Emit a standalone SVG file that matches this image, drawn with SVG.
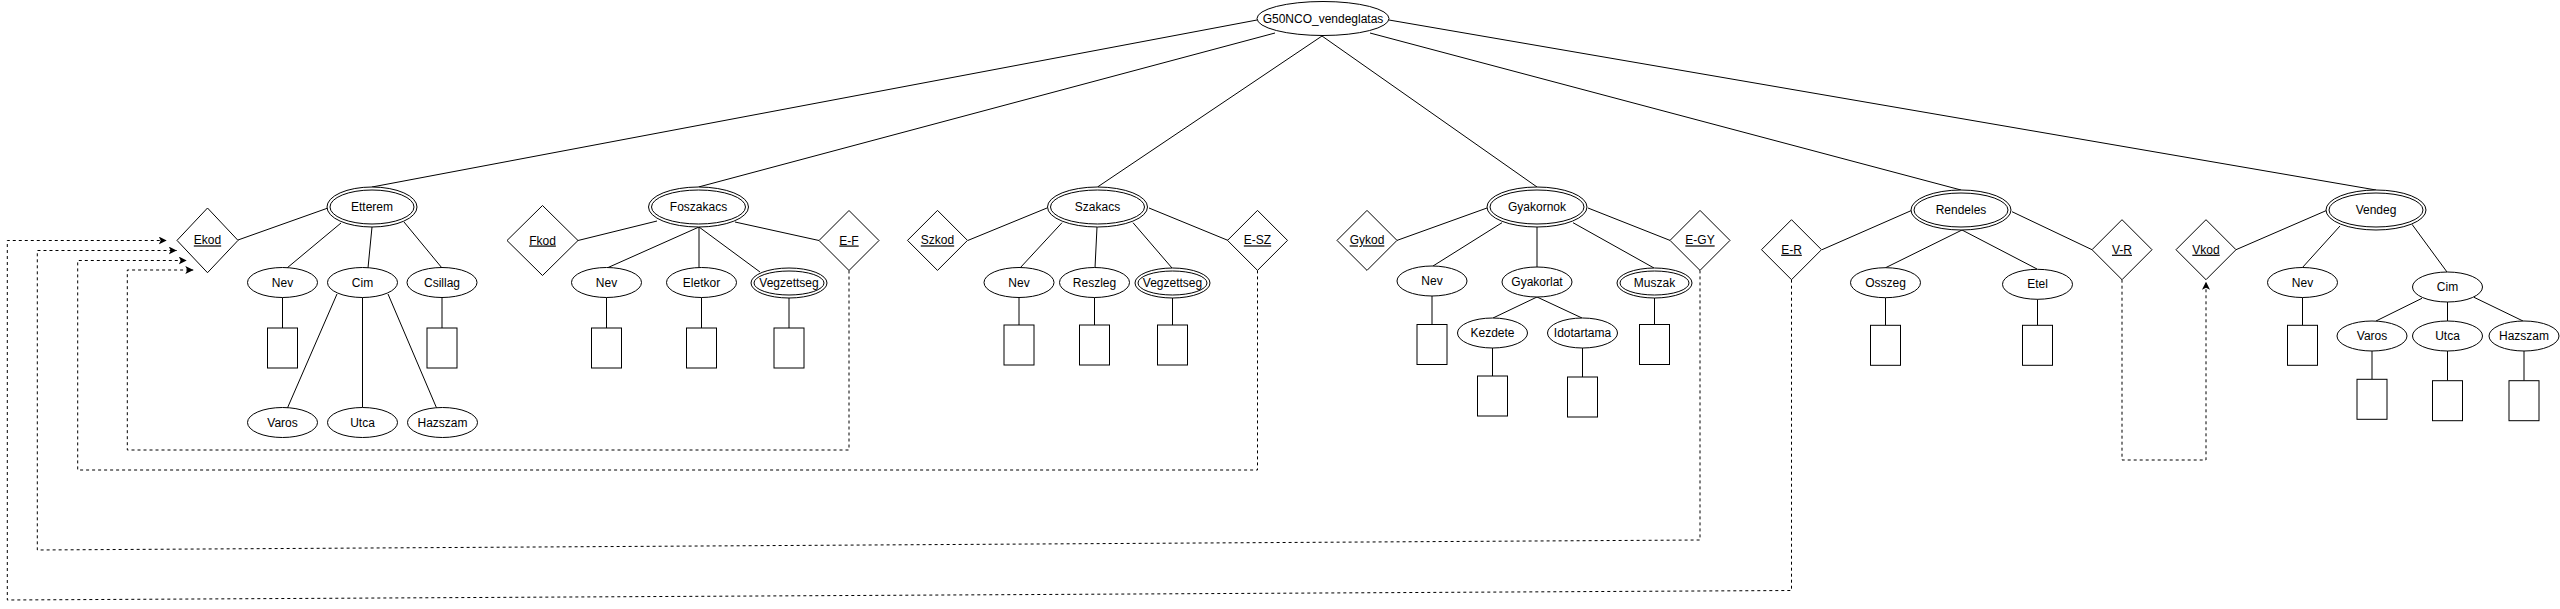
<svg xmlns="http://www.w3.org/2000/svg" width="2560" height="609" viewBox="0 0 2560 609">
<defs>
<style>
.s{fill:#fff;stroke:#000;stroke-width:1}
.ln{fill:none;stroke:#000;stroke-width:1}
.d{fill:none;stroke:#000;stroke-width:1;stroke-dasharray:3 3}
text{font-family:"Liberation Sans",Arial,sans-serif;font-size:12px;fill:#000;text-anchor:middle}
.u{text-decoration:underline}
</style>
<marker id="ah" viewBox="0 0 10 10" refX="10" refY="5" markerWidth="8" markerHeight="8" markerUnits="userSpaceOnUse" orient="auto">
<path d="M0,0 L10,5 L0,10 L2.5,5 Z" fill="#000"/>
</marker>
</defs>
<rect width="2560" height="609" fill="#fff"/>
<g id="connectors">
<!-- root to entities -->
<line class="ln" x1="1257" y1="20" x2="372" y2="187"/>
<line class="ln" x1="1275" y1="33" x2="698.5" y2="187"/>
<line class="ln" x1="1322" y1="36" x2="1097.5" y2="187"/>
<line class="ln" x1="1322" y1="36" x2="1537" y2="187"/>
<line class="ln" x1="1370" y1="33" x2="1961" y2="190"/>
<line class="ln" x1="1389" y1="20" x2="2376" y2="190"/>
<!-- Etterem -->
<line class="ln" x1="238" y1="240" x2="328" y2="208"/>
<line class="ln" x1="341" y1="223" x2="287" y2="268"/>
<line class="ln" x1="372" y1="227" x2="368" y2="268"/>
<line class="ln" x1="404" y1="222" x2="442" y2="268"/>
<line class="ln" x1="337" y1="294" x2="287" y2="409"/>
<line class="ln" x1="362.5" y1="297.5" x2="362.5" y2="407.5"/>
<line class="ln" x1="388" y1="294" x2="437" y2="409"/>
<line class="ln" x1="282.5" y1="297.5" x2="282.5" y2="328"/>
<line class="ln" x1="442" y1="297.5" x2="442" y2="328"/>
<!-- Foszakacs -->
<line class="ln" x1="578" y1="240.5" x2="657" y2="221"/>
<line class="ln" x1="819" y1="240.5" x2="735" y2="222"/>
<line class="ln" x1="699" y1="227" x2="607" y2="268"/>
<line class="ln" x1="699" y1="227" x2="699" y2="268"/>
<line class="ln" x1="699" y1="227" x2="760" y2="272"/>
<line class="ln" x1="606.5" y1="297.5" x2="606.5" y2="328"/>
<line class="ln" x1="701.5" y1="297.5" x2="701.5" y2="328"/>
<line class="ln" x1="789" y1="298" x2="789" y2="328"/>
<!-- Szakacs -->
<line class="ln" x1="968" y1="240.4" x2="1047" y2="208"/>
<line class="ln" x1="1149" y1="208" x2="1228" y2="240.4"/>
<line class="ln" x1="1062" y1="222.7" x2="1020" y2="268"/>
<line class="ln" x1="1097" y1="227" x2="1095" y2="268"/>
<line class="ln" x1="1133" y1="222.7" x2="1172" y2="268"/>
<line class="ln" x1="1019" y1="297.5" x2="1019" y2="325"/>
<line class="ln" x1="1094.5" y1="297.5" x2="1094.5" y2="325"/>
<line class="ln" x1="1172.5" y1="298" x2="1172.5" y2="325"/>
<!-- Gyakornok -->
<line class="ln" x1="1397" y1="240.4" x2="1487" y2="208"/>
<line class="ln" x1="1588" y1="208" x2="1670" y2="240.4"/>
<line class="ln" x1="1502" y1="222.7" x2="1433" y2="266"/>
<line class="ln" x1="1537" y1="227" x2="1537" y2="267"/>
<line class="ln" x1="1573" y1="222.7" x2="1654" y2="268"/>
<line class="ln" x1="1537" y1="297" x2="1493" y2="318"/>
<line class="ln" x1="1537" y1="297" x2="1582" y2="318"/>
<line class="ln" x1="1432" y1="296" x2="1432" y2="324.5"/>
<line class="ln" x1="1492.5" y1="348" x2="1492.5" y2="376"/>
<line class="ln" x1="1582.5" y1="348" x2="1582.5" y2="377"/>
<line class="ln" x1="1654.5" y1="298" x2="1654.5" y2="324.5"/>
<!-- Rendeles -->
<line class="ln" x1="1822" y1="249.7" x2="1911" y2="210.7"/>
<line class="ln" x1="2012" y1="211.7" x2="2092" y2="249.7"/>
<line class="ln" x1="1962" y1="230" x2="1885" y2="268"/>
<line class="ln" x1="1962" y1="230" x2="2037" y2="269"/>
<line class="ln" x1="1885.5" y1="297.7" x2="1885.5" y2="325.3"/>
<line class="ln" x1="2037.5" y1="299.3" x2="2037.5" y2="325.3"/>
<!-- Vendeg -->
<line class="ln" x1="2236" y1="249.7" x2="2326" y2="210.7"/>
<line class="ln" x1="2340" y1="226" x2="2302" y2="268"/>
<line class="ln" x1="2412" y1="224.3" x2="2447" y2="272"/>
<line class="ln" x1="2422" y1="298.3" x2="2376" y2="321"/>
<line class="ln" x1="2447.5" y1="302" x2="2447.5" y2="321"/>
<line class="ln" x1="2474" y1="297.3" x2="2523" y2="321"/>
<line class="ln" x1="2302.5" y1="297.5" x2="2302.5" y2="325.3"/>
<line class="ln" x1="2372" y1="351" x2="2372" y2="379.3"/>
<line class="ln" x1="2447.5" y1="351" x2="2447.5" y2="380.7"/>
<line class="ln" x1="2524" y1="351" x2="2524" y2="380.7"/>
<!-- dashed foreign key arrows -->
<polyline class="d" points="849,270.5 849,450 127.3,450 127.3,270 193.3,270" marker-end="url(#ah)"/>
<polyline class="d" points="1257.5,270.4 1257.5,470 77.7,470 77.7,260.5 186.7,260.5" marker-end="url(#ah)"/>
<polyline class="d" points="1700,270.4 1700,540 37.3,550 37.3,250.5 176.7,250.5" marker-end="url(#ah)"/>
<polyline class="d" points="1791.5,279.7 1791.5,590.5 7.3,600 7.3,240.5 166.7,240.5" marker-end="url(#ah)"/>
<polyline class="d" points="2122,279.7 2122,460 2206,460 2206,281.7" marker-end="url(#ah)"/>
</g>
<g id="root"><ellipse class="s" cx="1323" cy="18.5" rx="66" ry="17"/><text x="1323" y="22.5">G50NCO_vendeglatas</text></g>
<!-- Etterem -->
<g id="etterem"><ellipse class="s" cx="372" cy="207" rx="45" ry="20"/><ellipse class="s" cx="372" cy="207" rx="42" ry="17"/><text x="372" y="211">Etterem</text></g>
<g id="ekod"><polygon class="s" points="207.5,208 238,240.4 207.5,272.7 177,240.4"/><text class="u" x="207.5" y="244.4">Ekod</text></g>
<g id="etterem-nev"><ellipse class="s" cx="282.5" cy="282.5" rx="35" ry="15"/><text x="282.5" y="286.5">Nev</text></g>
<g id="etterem-cim"><ellipse class="s" cx="362.5" cy="282.5" rx="35" ry="15"/><text x="362.5" y="286.5">Cim</text></g>
<g id="etterem-csillag"><ellipse class="s" cx="442" cy="282.5" rx="35" ry="15"/><text x="442" y="286.5">Csillag</text></g>
<g id="etterem-varos"><ellipse class="s" cx="282.5" cy="422.5" rx="35" ry="15"/><text x="282.5" y="426.5">Varos</text></g>
<g id="etterem-utca"><ellipse class="s" cx="362.5" cy="422.5" rx="35" ry="15"/><text x="362.5" y="426.5">Utca</text></g>
<g id="etterem-hazszam"><ellipse class="s" cx="442.5" cy="422.5" rx="35" ry="15"/><text x="442.5" y="426.5">Hazszam</text></g>
<g id="etterem-boxes"><rect class="s" x="267.5" y="328" width="30" height="40"/><rect class="s" x="427" y="328" width="30" height="40"/></g>
<!-- Foszakacs -->
<g id="foszakacs"><ellipse class="s" cx="698.5" cy="207" rx="50" ry="20"/><ellipse class="s" cx="698.5" cy="207" rx="47" ry="17"/><text x="698.5" y="211">Foszakacs</text></g>
<g id="fkod"><polygon class="s" points="542.5,205.5 578,240.5 542.5,275.5 507,240.5"/><text class="u" x="542.5" y="244.5">Fkod</text></g>
<g id="ef"><polygon class="s" points="849,210.5 879,240.5 849,270.5 819,240.5"/><text class="u" x="849" y="244.5">E-F</text></g>
<g id="foszakacs-nev"><ellipse class="s" cx="606.5" cy="282.5" rx="35" ry="15"/><text x="606.5" y="286.5">Nev</text></g>
<g id="foszakacs-eletkor"><ellipse class="s" cx="701.5" cy="282.5" rx="35" ry="15"/><text x="701.5" y="286.5">Eletkor</text></g>
<g id="foszakacs-vegzettseg"><ellipse class="s" cx="789" cy="283" rx="38" ry="15"/><ellipse class="s" cx="789" cy="283" rx="35" ry="12"/><text x="789" y="287">Vegzettseg</text></g>
<g id="foszakacs-boxes"><rect class="s" x="591.5" y="328" width="30" height="40"/><rect class="s" x="686.5" y="328" width="30" height="40"/><rect class="s" x="774" y="328" width="30" height="40"/></g>
<!-- Szakacs -->
<g id="szakacs"><ellipse class="s" cx="1097.5" cy="207" rx="50" ry="20"/><ellipse class="s" cx="1097.5" cy="207" rx="47" ry="17"/><text x="1097.5" y="211">Szakacs</text></g>
<g id="szkod"><polygon class="s" points="937.5,210.4 967.5,240.4 937.5,270.4 907.5,240.4"/><text class="u" x="937.5" y="244.4">Szkod</text></g>
<g id="esz"><polygon class="s" points="1257.5,210.4 1287.5,240.4 1257.5,270.4 1227.5,240.4"/><text class="u" x="1257.5" y="244.4">E-SZ</text></g>
<g id="szakacs-nev"><ellipse class="s" cx="1019" cy="282.5" rx="35" ry="15"/><text x="1019" y="286.5">Nev</text></g>
<g id="szakacs-reszleg"><ellipse class="s" cx="1094.5" cy="282.5" rx="35" ry="15"/><text x="1094.5" y="286.5">Reszleg</text></g>
<g id="szakacs-vegzettseg"><ellipse class="s" cx="1172.5" cy="283" rx="37.5" ry="15"/><ellipse class="s" cx="1172.5" cy="283" rx="34.5" ry="12"/><text x="1172.5" y="287">Vegzettseg</text></g>
<g id="szakacs-boxes"><rect class="s" x="1004" y="325" width="30" height="40"/><rect class="s" x="1079.5" y="325" width="30" height="40"/><rect class="s" x="1157.5" y="325" width="30" height="40"/></g>
<!-- Gyakornok -->
<g id="gyakornok"><ellipse class="s" cx="1537" cy="207" rx="50" ry="20"/><ellipse class="s" cx="1537" cy="207" rx="47" ry="17"/><text x="1537" y="211">Gyakornok</text></g>
<g id="gykod"><polygon class="s" points="1367,210.4 1397,240.4 1367,270.4 1337,240.4"/><text class="u" x="1367" y="244.4">Gykod</text></g>
<g id="egy"><polygon class="s" points="1700,210.4 1730,240.4 1700,270.4 1670,240.4"/><text class="u" x="1700" y="244.4">E-GY</text></g>
<g id="gyakornok-nev"><ellipse class="s" cx="1432" cy="281" rx="35" ry="15"/><text x="1432" y="285">Nev</text></g>
<g id="gyakornok-gyakorlat"><ellipse class="s" cx="1537" cy="282" rx="35" ry="15"/><text x="1537" y="286">Gyakorlat</text></g>
<g id="gyakornok-muszak"><ellipse class="s" cx="1654.5" cy="283" rx="37.5" ry="15"/><ellipse class="s" cx="1654.5" cy="283" rx="34.5" ry="12"/><text x="1654.5" y="287">Muszak</text></g>
<g id="gyakornok-kezdete"><ellipse class="s" cx="1492.5" cy="333" rx="35" ry="15"/><text x="1492.5" y="337">Kezdete</text></g>
<g id="gyakornok-idotartama"><ellipse class="s" cx="1582.5" cy="333" rx="35" ry="15"/><text x="1582.5" y="337">Idotartama</text></g>
<g id="gyakornok-boxes"><rect class="s" x="1417" y="324.5" width="30" height="40"/><rect class="s" x="1477.5" y="376" width="30" height="40"/><rect class="s" x="1567.5" y="377" width="30" height="40"/><rect class="s" x="1639.5" y="324.5" width="30" height="40"/></g>
<!-- Rendeles -->
<g id="rendeles"><ellipse class="s" cx="1961" cy="210" rx="50" ry="20"/><ellipse class="s" cx="1961" cy="210" rx="47" ry="17"/><text x="1961" y="214">Rendeles</text></g>
<g id="er"><polygon class="s" points="1791.5,219.7 1821.5,249.7 1791.5,279.7 1761.5,249.7"/><text class="u" x="1791.5" y="253.7">E-R</text></g>
<g id="vr"><polygon class="s" points="2122,219.7 2152,249.7 2122,279.7 2092,249.7"/><text class="u" x="2122" y="253.7">V-R</text></g>
<g id="rendeles-osszeg"><ellipse class="s" cx="1885.5" cy="282.7" rx="35" ry="15"/><text x="1885.5" y="286.7">Osszeg</text></g>
<g id="rendeles-etel"><ellipse class="s" cx="2037.5" cy="284.3" rx="35" ry="15"/><text x="2037.5" y="288.3">Etel</text></g>
<g id="rendeles-boxes"><rect class="s" x="1870.5" y="325.3" width="30" height="40"/><rect class="s" x="2022.5" y="325.3" width="30" height="40"/></g>
<!-- Vendeg -->
<g id="vendeg"><ellipse class="s" cx="2376" cy="210" rx="50" ry="20"/><ellipse class="s" cx="2376" cy="210" rx="47" ry="17"/><text x="2376" y="214">Vendeg</text></g>
<g id="vkod"><polygon class="s" points="2206,219.7 2236,249.7 2206,279.7 2176,249.7"/><text class="u" x="2206" y="253.7">Vkod</text></g>
<g id="vendeg-nev"><ellipse class="s" cx="2302.5" cy="282.5" rx="35" ry="15"/><text x="2302.5" y="286.5">Nev</text></g>
<g id="vendeg-cim"><ellipse class="s" cx="2447.5" cy="287" rx="35" ry="15"/><text x="2447.5" y="291">Cim</text></g>
<g id="vendeg-varos"><ellipse class="s" cx="2372" cy="336" rx="35" ry="15"/><text x="2372" y="340">Varos</text></g>
<g id="vendeg-utca"><ellipse class="s" cx="2447.5" cy="336" rx="35" ry="15"/><text x="2447.5" y="340">Utca</text></g>
<g id="vendeg-hazszam"><ellipse class="s" cx="2524" cy="336" rx="35" ry="15"/><text x="2524" y="340">Hazszam</text></g>
<g id="vendeg-boxes"><rect class="s" x="2287.5" y="325.3" width="30" height="40"/><rect class="s" x="2357" y="379.3" width="30" height="40"/><rect class="s" x="2432.5" y="380.7" width="30" height="40"/><rect class="s" x="2509" y="380.7" width="30" height="40"/></g>
</svg>
